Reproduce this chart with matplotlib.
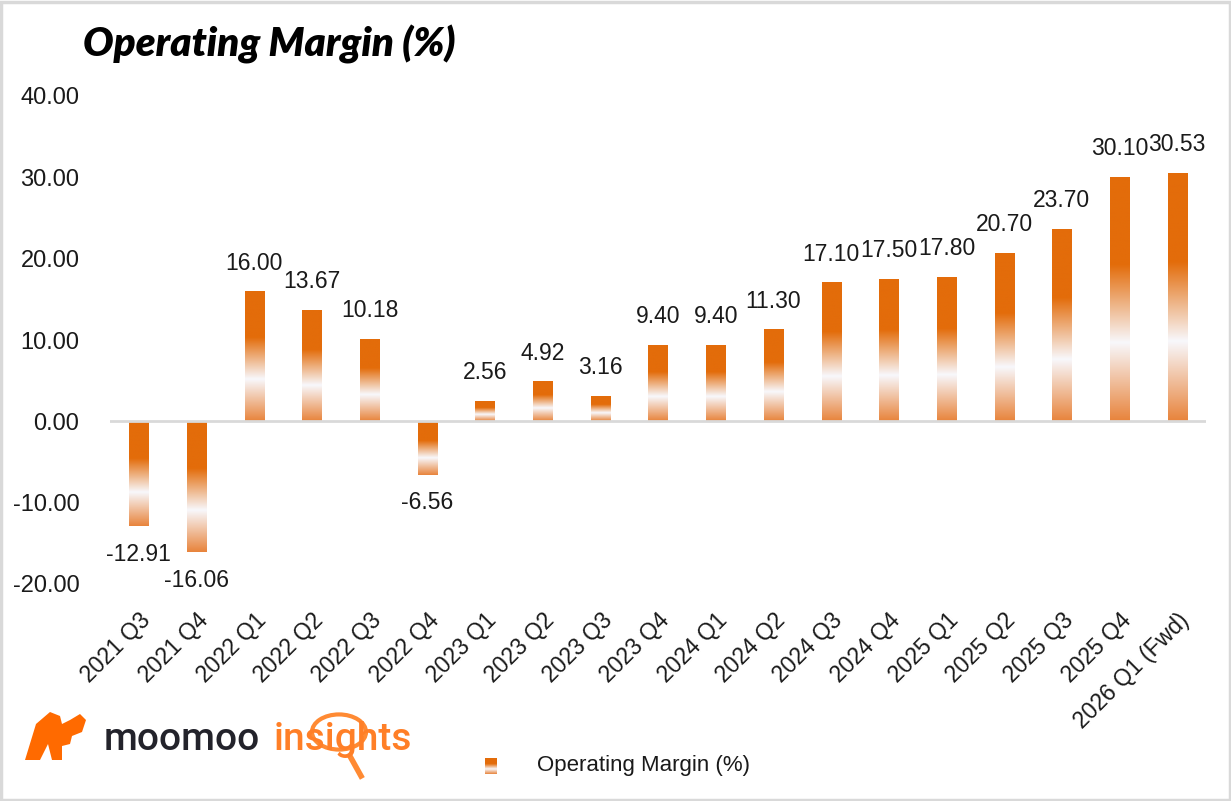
import matplotlib
matplotlib.use("Agg")
import matplotlib.pyplot as plt
import numpy as np
from matplotlib.colors import LinearSegmentedColormap
from matplotlib.patches import Rectangle, Circle, Polygon

# ---- data -----------------------------------------------------------
quarters = ["2021 Q3", "2021 Q4", "2022 Q1", "2022 Q2", "2022 Q3", "2022 Q4",
            "2023 Q1", "2023 Q2", "2023 Q3", "2023 Q4", "2024 Q1", "2024 Q2",
            "2024 Q3", "2024 Q4", "2025 Q1", "2025 Q2", "2025 Q3", "2025 Q4",
            "2026 Q1 (Fwd)"]
margin = [-12.91, -16.06, 16.00, 13.67, 10.18, -6.56, 2.56, 4.92, 3.16, 9.40,
          9.40, 11.30, 17.10, 17.50, 17.80, 20.70, 23.70, 30.10, 30.53]
y_ticks = [-20, -10, 0, 10, 20, 30, 40]

ORANGE = "#E36C0A"
# top -> bottom: solid orange, fade to white, fade to lighter orange
grad = LinearSegmentedColormap.from_list(
    "bar", [(0.0, ORANGE), (0.36, ORANGE), (0.68, "#F8F8FC"), (1.0, "#E8843C")])
grad_img = grad(np.linspace(0, 1, 256))[:, None, :]

plt.rcParams["font.family"] = ["Liberation Sans", "DejaVu Sans"]

fig = plt.figure(figsize=(12.31, 8.01), dpi=100)
ax = fig.add_axes([110 / 1231, (801 - 584) / 801, 1096 / 1231, 488 / 801])

x = np.arange(len(quarters))
bars = ax.bar(x, margin, width=0.33, color="none", edgecolor="none", zorder=2)
for b, v in zip(bars, margin):
    x0 = b.get_x()
    lo, hi = min(0, v), max(0, v)
    im = ax.imshow(grad_img, extent=(x0, x0 + b.get_width(), lo, hi),
                   aspect="auto", origin="upper", zorder=2)
    im.set_clip_path(b)
    off = 12 if v >= 0 else -12
    ax.annotate(f"{v:.2f}", (b.get_x() + b.get_width() / 2, v),
                xytext=(0, off), textcoords="offset points", ha="center",
                va="bottom" if v >= 0 else "top", fontsize=16.5, color="#1a1a1a")

ax.axhline(0, color="#D9D9D9", lw=2, zorder=3)
ax.set_xlim(-0.5, len(quarters) - 0.5)
ax.set_ylim(-20, 40)
ax.set_yticks(y_ticks)
ax.set_yticklabels([f"{t:.2f}" for t in y_ticks], fontsize=17, color="#1a1a1a")
ax.set_xticks(x)
ax.set_xticklabels(quarters, rotation=45, ha="right", rotation_mode="anchor",
                   fontsize=16.5, color="#1a1a1a")
ax.tick_params(axis="y", length=0, pad=22)
ax.tick_params(axis="x", length=0, pad=18)
for s in ax.spines.values():
    s.set_visible(False)

# ---- title ----------------------------------------------------------
fig.text(83 / 1231, 1 - 56 / 801, "Operating Margin (%)", fontsize=29,
         fontweight="heavy", fontstyle="italic", family=["Lato", "DejaVu Sans"],
         color="#000000", va="baseline")

# ---- legend ---------------------------------------------------------
lax = fig.add_axes([485 / 1231, 1 - 774 / 801, 12 / 1231, 16 / 801])
lax.imshow(grad_img, aspect="auto")
lax.axis("off")
fig.text(537 / 1231, 1 - 766 / 801, "Operating Margin (%)", fontsize=16,
         family=["Liberation Sans Narrow", "Liberation Sans"], va="center",
         color="#1a1a1a")

# ---- logo -----------------------------------------------------------
W, H = 1231, 801
def fp(px, py):
    return (px / W, 1 - py / H)

bull = [fp(25, 760), fp(36, 724), fp(50, 712), fp(60, 716), fp(62, 724),
        fp(70, 720), fp(80, 714), fp(86, 720), fp(82, 732), fp(72, 736),
        fp(70, 744), fp(62, 746), fp(62, 760), fp(52, 760), fp(48, 744),
        fp(40, 760)]
fig.patches.append(Polygon(bull, closed=True, transform=fig.transFigure,
                           facecolor="#FF6A00", edgecolor="none"))
fig.text(104 / W, 1 - 750 / H, "moomoo", fontsize=28, fontweight="medium",
         family=["Roboto", "DejaVu Sans"], color="#23232B", va="baseline")
fig.text(274 / W, 1 - 750 / H, "insights", fontsize=28, fontweight="medium",
         family=["Roboto", "DejaVu Sans"], color="#FF7F27", va="baseline")
fig.patches.append(Circle(fp(339, 732), 27 / W, transform=fig.transFigure,
                          facecolor="none", edgecolor="#FF8A33", lw=3))
fig.lines.append(plt.Line2D([351 / W, 361 / W], [1 - 758 / H, 1 - 776 / H],
                            transform=fig.transFigure, color="#FF8A33", lw=4))

# ---- border ---------------------------------------------------------
fig.patches.append(Rectangle((0.001, 0.001), 0.998, 0.997, transform=fig.transFigure,
                             facecolor="none", edgecolor="#D9D9D9", lw=2.5))

fig.savefig("out.png", dpi=100)
